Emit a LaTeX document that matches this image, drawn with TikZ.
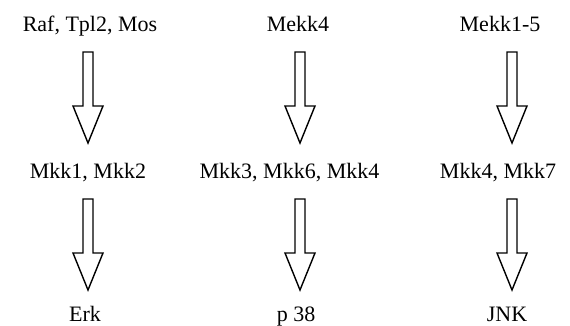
\documentclass[tikz,border=0pt]{standalone}
\usepackage{fontspec}
\setmainfont{Liberation Serif}
\usetikzlibrary{calc}
\tikzset{
  lbl/.style={anchor=base, inner sep=0pt, font=\fontsize{22}{26}\selectfont},
  blk/.style={draw=black, line width=1.4pt, fill=white, line join=miter}
}
\newcommand\blockarrow[2]{%
  \draw[blk] ($(#1)+(-5,0)$) -- ($(#1)+(5,0)$) -- ($(#2)+(5,37)$) -- ($(#2)+(15,37)$)
    -- (#2) -- ($(#2)+(-15,37)$) -- ($(#2)+(-5,37)$) -- cycle;}
\begin{document}
\begin{tikzpicture}[x=1pt,y=1pt]
\useasboundingbox (0,0) rectangle (570,325);
% text nodes
\node[lbl] (r1) at (90,293.3) {Raf, Tpl2, Mos};
\node[lbl] (m1) at (88,147) {Mkk1, Mkk2};
\node[lbl] (e1) at (85,3.5) {Erk};
\node[lbl] (r2) at (298,293.3) {Mekk4};
\node[lbl] (m2) at (289.5,147) {Mkk3, Mkk6, Mkk4};
\node[lbl] (e2) at (296,3.5) {p 38};
\node[lbl] (r3) at (500,293.3) {Mekk1-5};
\node[lbl] (m3) at (498,147) {Mkk4, Mkk7};
\node[lbl] (e3) at (507,3.5) {JNK};
% arrow endpoints
\coordinate (a1t) at (88,273);  \coordinate (a1b) at (88,182);
\coordinate (b1t) at (88,126);  \coordinate (b1b) at (88,35);
\coordinate (a2t) at (300,273); \coordinate (a2b) at (300,182);
\coordinate (b2t) at (300,126); \coordinate (b2b) at (300,35);
\coordinate (a3t) at (512,273); \coordinate (a3b) at (512,182);
\coordinate (b3t) at (512,126); \coordinate (b3b) at (512,35);
\blockarrow{a1t}{a1b}
\blockarrow{b1t}{b1b}
\blockarrow{a2t}{a2b}
\blockarrow{b2t}{b2b}
\blockarrow{a3t}{a3b}
\blockarrow{b3t}{b3b}
\end{tikzpicture}
\end{document}
